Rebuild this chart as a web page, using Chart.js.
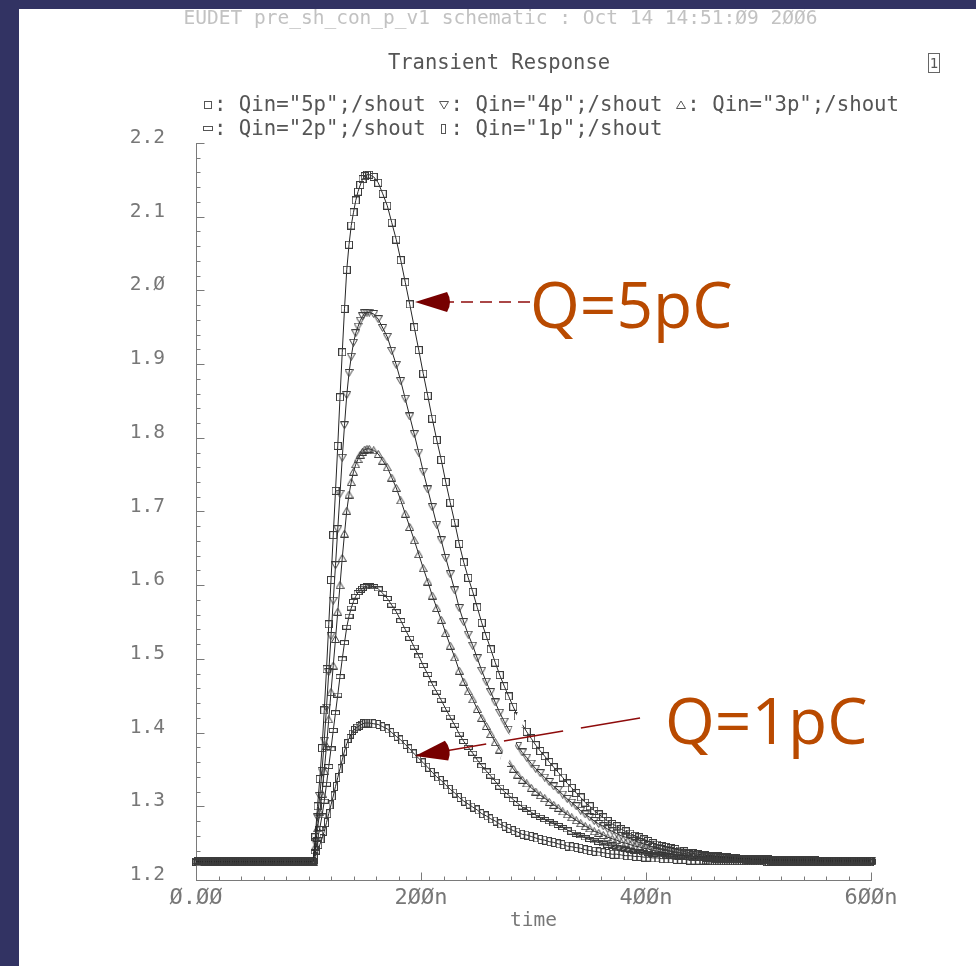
<!DOCTYPE html>
<html>
<head>
<meta charset="utf-8">
<script src="https://cdn.jsdelivr.net/npm/chart.js@4/dist/chart.umd.min.js"></script>
<style>
  html,body{margin:0;padding:0;}
  body{background:#323363;width:976px;height:966px;overflow:hidden;position:relative;}
  #paper{position:absolute;left:19px;top:9px;width:957px;height:957px;background:#fff;}
  #c{position:absolute;left:0;top:0;}
  .t{position:absolute;font-family:"DejaVu Sans Mono",monospace;white-space:pre;line-height:1;}
  #hdr{left:0;width:1001px;text-align:center;top:8px;font-size:19.5px;color:#c2c2c2;}
  #ttl{left:0;width:998px;text-align:center;top:51.5px;font-size:20.5px;color:#555;}
  .leg{left:201.5px;font-size:20.7px;color:#555;}
  #leg1{top:90px;}
  #leg2{top:114px;}
  .mk{display:inline-block;width:1ch;height:1em;position:relative;}
  .mk svg{position:absolute;left:50%;bottom:1px;transform:translateX(-50%);}
  #icon{position:absolute;left:928px;top:53px;width:10px;height:18px;border:1px solid #666;font-family:"DejaVu Sans Mono",monospace;font-size:14px;line-height:18px;text-align:center;color:#555;}
</style>
</head>
<body>
<div id="paper"></div>
<canvas id="c" width="976" height="966"></canvas>
<div class="t" id="hdr">EUDET pre_sh_con_p_v1 schematic : Oct 14 14:51:Ø9 2ØØ6</div>
<div class="t" id="ttl">Transient Response</div>
<div class="t leg" id="leg1"><span class="mk"><svg width="10" height="10"><rect x="1.5" y="1.5" width="7" height="7" fill="none" stroke="#555"/></svg></span>: Qin="5p";/shout <span class="mk"><svg width="10" height="10"><path d="M0.5 1.5 L9.5 1.5 L5 9 Z" fill="none" stroke="#555"/></svg></span>: Qin="4p";/shout <span class="mk"><svg width="10" height="10"><path d="M5 1 L9.5 8.5 L0.5 8.5 Z" fill="none" stroke="#555"/></svg></span>: Qin="3p";/shout</div>
<div class="t leg" id="leg2"><span class="mk"><svg width="10" height="10"><rect x="0.5" y="2.5" width="9" height="4" fill="none" stroke="#555"/></svg></span>: Qin="2p";/shout <span class="mk"><svg width="10" height="10"><rect x="2.5" y="0.5" width="4" height="9" fill="none" stroke="#555"/></svg></span>: Qin="1p";/shout</div>
<div id="icon">1</div>
<script>
// ---- data (time in ns, voltages in V) ----
const timeNs = [
  0,2,4,6,8,10,12,14,16,18,20,22,24,26,28,30,32,34,36,38,40,42,44,46,48,50,
  52,54,56,58,60,62,64,66,68,70,72,74,76,78,80,82,84,86,88,90,92,94,96,98,100,102,
  104,106,108,110,112,114,116,118,120,122,124,126,128,130,132,134,136,138,140,142,144,146,148,150,152,154,
  158,162,166,170,174,178,182,186,190,194,
  198,202,206,210,214,218,222,226,230,234,
  238,242,246,250,254,258,262,266,270,274,
  278,282,286,290,294,298,302,306,310,314,
  318,322,326,330,334,338,342,346,350,354,
  358,362,366,370,374,378,382,386,390,394,
  398,402,406,410,414,418,422,426,430,434,
  438,442,446,450,
  452,454,456,458,460,462,464,466,468,470,472,474,476,478,480,482,484,486,488,490,
  492,494,496,498,500,502,504,506,508,510,512,
  514,516,518,520,522,524,526,528,530,532,534,536,538,540,542,544,546,548,550,
  552,554,556,558,560,562,564,566,568,570,572,574,576,578,580,582,584,586,588,590,
  592,594,596,598,600
];

const shout5p = [
  1.225,1.225,1.225,1.225,1.225,1.225,1.225,1.225,1.225,1.225,1.225,1.225,1.225,1.225,1.225,1.225,1.225,1.225,1.225,1.225,1.225,1.225,1.225,1.225,1.225,1.225,
  1.225,1.225,1.225,1.225,1.225,1.225,1.225,1.225,1.225,1.225,1.225,1.225,1.225,1.225,1.225,1.225,1.225,1.225,1.225,1.225,1.225,1.225,1.225,1.225,1.225,1.225,
  1.225,1.258,1.300,1.337,1.379,1.430,1.486,1.547,1.607,1.668,1.728,1.789,1.855,1.916,1.975,2.028,2.062,2.088,2.106,2.122,2.134,2.143,2.151,2.155,2.157,2.157,
  2.154,2.146,2.131,2.115,2.092,2.069,2.041,2.011,1.981,1.950,
  1.919,1.887,1.857,1.826,1.797,1.770,1.740,1.712,1.685,1.656,
  1.631,1.610,1.591,1.570,1.549,1.531,1.513,1.495,1.478,1.463,
  1.449,1.435,1.422,1.411,1.401,1.392,1.383,1.375,1.368,1.360,
  1.353,1.346,1.339,1.331,1.325,1.318,1.312,1.305,1.300,1.294,
  1.289,1.285,1.280,1.276,1.273,1.269,1.266,1.263,1.260,1.258,
  1.255,1.253,1.250,1.248,1.246,1.245,1.243,1.242,1.240,1.239,
  1.237,1.236,1.235,1.234,
  1.234,1.233,1.233,1.233,1.233,1.232,1.232,1.231,1.231,1.231,1.231,1.230,1.230,1.230,1.230,1.229,1.229,1.229,1.229,1.229,
  1.229,1.228,1.228,1.228,1.228,1.228,1.228,1.228,1.228,1.227,1.227,
  1.227,1.227,1.227,1.227,1.227,1.227,1.227,1.227,1.227,1.227,1.227,1.227,1.227,1.227,1.227,1.227,1.227,1.227,1.227,
  1.226,1.226,1.226,1.226,1.226,1.226,1.226,1.226,1.226,1.226,1.226,1.226,1.226,1.226,1.226,1.226,1.226,1.226,1.226,1.226,
  1.226,1.226,1.226,1.226,1.226
];

const shout4p = [
  1.225,1.225,1.225,1.225,1.225,1.225,1.225,1.225,1.225,1.225,1.225,1.225,1.225,1.225,1.225,1.225,1.225,1.225,1.225,1.225,1.225,1.225,1.225,1.225,1.225,1.225,
  1.225,1.225,1.225,1.225,1.225,1.225,1.225,1.225,1.225,1.225,1.225,1.225,1.225,1.225,1.225,1.225,1.225,1.225,1.225,1.225,1.225,1.225,1.225,1.225,1.225,1.225,
  1.225,1.251,1.285,1.314,1.348,1.389,1.434,1.482,1.531,1.579,1.627,1.676,1.724,1.773,1.817,1.858,1.888,1.910,1.929,1.942,1.951,1.959,1.965,1.969,1.970,1.970,
  1.968,1.961,1.949,1.937,1.918,1.899,1.877,1.853,1.829,1.805,
  1.780,1.754,1.730,1.706,1.682,1.661,1.637,1.615,1.593,1.569,
  1.550,1.533,1.518,1.501,1.484,1.469,1.455,1.441,1.427,1.415,
  1.404,1.393,1.382,1.373,1.366,1.358,1.351,1.345,1.339,1.333,
  1.327,1.322,1.316,1.310,1.305,1.300,1.294,1.289,1.285,1.280,
  1.276,1.273,1.269,1.266,1.263,1.260,1.258,1.256,1.253,1.251,
  1.249,1.247,1.245,1.244,1.242,1.241,1.239,1.238,1.237,1.236,
  1.235,1.234,1.233,1.232,
  1.232,1.232,1.232,1.231,1.231,1.231,1.231,1.230,1.230,1.230,1.230,1.229,1.229,1.229,1.229,1.229,1.229,1.228,1.228,1.228,
  1.228,1.228,1.228,1.228,1.228,1.227,1.227,1.227,1.227,1.227,1.227,
  1.227,1.227,1.227,1.227,1.227,1.227,1.227,1.227,1.227,1.226,1.226,1.226,1.226,1.226,1.226,1.226,1.226,1.226,1.226,
  1.226,1.226,1.226,1.226,1.226,1.226,1.226,1.226,1.226,1.226,1.226,1.226,1.226,1.226,1.226,1.226,1.226,1.226,1.226,1.226,
  1.226,1.226,1.226,1.226,1.226
];

const shout3p = [
  1.225,1.225,1.225,1.225,1.225,1.225,1.225,1.225,1.225,1.225,1.225,1.225,1.225,1.225,1.225,1.225,1.225,1.225,1.225,1.225,1.225,1.225,1.225,1.225,1.225,1.225,
  1.225,1.225,1.225,1.225,1.225,1.225,1.225,1.225,1.225,1.225,1.225,1.225,1.225,1.225,1.225,1.225,1.225,1.225,1.225,1.225,1.225,1.225,1.225,1.225,1.225,1.225,
  1.225,1.245,1.270,1.292,1.317,1.348,1.382,1.418,1.455,1.491,1.527,1.564,1.600,1.637,1.670,1.701,1.723,1.740,1.754,1.764,1.771,1.777,1.781,1.784,1.785,1.785,
  1.783,1.778,1.769,1.760,1.746,1.732,1.715,1.697,1.679,1.661,
  1.642,1.623,1.605,1.586,1.569,1.553,1.535,1.518,1.502,1.484,
  1.469,1.456,1.445,1.432,1.420,1.409,1.398,1.387,1.377,1.368,
  1.359,1.351,1.343,1.336,1.331,1.325,1.320,1.315,1.311,1.306,
  1.302,1.298,1.293,1.289,1.285,1.281,1.277,1.273,1.270,1.266,
  1.264,1.261,1.258,1.256,1.254,1.251,1.250,1.248,1.246,1.245,
  1.243,1.242,1.240,1.239,1.238,1.237,1.236,1.235,1.234,1.233,
  1.232,1.232,1.231,1.231,
  1.231,1.230,1.230,1.230,1.230,1.229,1.229,1.229,1.229,1.229,1.229,1.228,1.228,1.228,1.228,1.228,1.228,1.228,1.228,1.227,
  1.227,1.227,1.227,1.227,1.227,1.227,1.227,1.227,1.227,1.227,1.226,
  1.226,1.226,1.226,1.226,1.226,1.226,1.226,1.226,1.226,1.226,1.226,1.226,1.226,1.226,1.226,1.226,1.226,1.226,1.226,
  1.226,1.226,1.226,1.226,1.226,1.226,1.226,1.226,1.226,1.226,1.226,1.226,1.226,1.226,1.226,1.226,1.226,1.226,1.226,1.226,
  1.226,1.226,1.226,1.226,1.226
];

const shout2p = [
  1.225,1.225,1.225,1.225,1.225,1.225,1.225,1.225,1.225,1.225,1.225,1.225,1.225,1.225,1.225,1.225,1.225,1.225,1.225,1.225,1.225,1.225,1.225,1.225,1.225,1.225,
  1.225,1.225,1.225,1.225,1.225,1.225,1.225,1.225,1.225,1.225,1.225,1.225,1.225,1.225,1.225,1.225,1.225,1.225,1.225,1.225,1.225,1.225,1.225,1.225,1.225,1.225,
  1.225,1.238,1.255,1.270,1.287,1.307,1.330,1.354,1.378,1.403,1.427,1.451,1.476,1.500,1.522,1.543,1.558,1.569,1.578,1.585,1.590,1.593,1.596,1.598,1.599,1.599,
  1.598,1.595,1.589,1.582,1.573,1.564,1.552,1.540,1.528,1.516,
  1.504,1.491,1.479,1.466,1.455,1.444,1.432,1.421,1.410,1.398,
  1.388,1.380,1.372,1.363,1.355,1.348,1.341,1.334,1.326,1.320,
  1.315,1.309,1.304,1.299,1.296,1.292,1.288,1.285,1.282,1.279,
  1.276,1.274,1.271,1.268,1.265,1.262,1.260,1.257,1.255,1.253,
  1.251,1.249,1.247,1.246,1.244,1.243,1.241,1.240,1.239,1.238,
  1.237,1.236,1.235,1.234,1.234,1.233,1.232,1.232,1.231,1.231,
  1.230,1.229,1.229,1.229,
  1.229,1.228,1.228,1.228,1.228,1.228,1.228,1.228,1.228,1.227,1.227,1.227,1.227,1.227,1.227,1.227,1.227,1.227,1.227,1.227,
  1.227,1.226,1.226,1.226,1.226,1.226,1.226,1.226,1.226,1.226,1.226,
  1.226,1.226,1.226,1.226,1.226,1.226,1.226,1.226,1.226,1.226,1.226,1.226,1.226,1.226,1.226,1.226,1.226,1.226,1.226,
  1.226,1.226,1.226,1.226,1.226,1.226,1.226,1.226,1.226,1.226,1.225,1.225,1.225,1.225,1.225,1.225,1.225,1.225,1.225,1.225,
  1.225,1.225,1.225,1.225,1.225
];

const shout1p = [
  1.225,1.225,1.225,1.225,1.225,1.225,1.225,1.225,1.225,1.225,1.225,1.225,1.225,1.225,1.225,1.225,1.225,1.225,1.225,1.225,1.225,1.225,1.225,1.225,1.225,1.225,
  1.225,1.225,1.225,1.225,1.225,1.225,1.225,1.225,1.225,1.225,1.225,1.225,1.225,1.225,1.225,1.225,1.225,1.225,1.225,1.225,1.225,1.225,1.225,1.225,1.225,1.225,
  1.225,1.232,1.240,1.248,1.256,1.266,1.278,1.290,1.302,1.314,1.327,1.339,1.351,1.363,1.375,1.385,1.392,1.398,1.403,1.406,1.408,1.410,1.412,1.413,1.413,1.413,
  1.412,1.411,1.408,1.405,1.400,1.395,1.390,1.384,1.378,1.371,
  1.365,1.359,1.353,1.346,1.340,1.335,1.329,1.323,1.318,1.312,
  1.307,1.303,1.299,1.295,1.290,1.287,1.283,1.280,1.276,1.273,
  1.270,1.267,1.265,1.262,1.261,1.259,1.257,1.255,1.254,1.252,
  1.251,1.249,1.248,1.246,1.245,1.244,1.243,1.241,1.240,1.239,
  1.238,1.237,1.236,1.235,1.235,1.234,1.233,1.233,1.232,1.232,
  1.231,1.231,1.230,1.230,1.229,1.229,1.229,1.228,1.228,1.228,
  1.227,1.227,1.227,1.227,
  1.227,1.227,1.226,1.226,1.226,1.226,1.226,1.226,1.226,1.226,1.226,1.226,1.226,1.226,1.226,1.226,1.226,1.226,1.226,1.226,
  1.226,1.226,1.226,1.226,1.226,1.226,1.226,1.225,1.225,1.225,1.225,
  1.225,1.225,1.225,1.225,1.225,1.225,1.225,1.225,1.225,1.225,1.225,1.225,1.225,1.225,1.225,1.225,1.225,1.225,1.225,
  1.225,1.225,1.225,1.225,1.225,1.225,1.225,1.225,1.225,1.225,1.225,1.225,1.225,1.225,1.225,1.225,1.225,1.225,1.225,1.225,
  1.225,1.225,1.225,1.225,1.225
];

const seriesNames = ['Qin="5p";/shout','Qin="4p";/shout','Qin="3p";/shout','Qin="2p";/shout','Qin="1p";/shout'];
const xTickLabels = ['Ø.ØØ','2ØØn','4ØØn','6ØØn'];
const yTickLabels = ['1.2','1.3','1.4','1.5','1.6','1.7','1.8','1.9','2.Ø','2.1','2.2'];

// ---- marker glyphs ----
function mk(w,h,draw){
  const c=document.createElement('canvas'); c.width=w; c.height=h;
  const g=c.getContext('2d'); g.strokeStyle='#3c3c3c'; g.lineWidth=1; draw(g); return c;
}
const mSquare = mk(8,8,g=>g.strokeRect(0.5,0.5,7,7));
const mDown = mk(9,8,g=>{g.beginPath();g.moveTo(0.5,0.5);g.lineTo(8.5,0.5);g.lineTo(4.5,7.5);g.closePath();g.stroke();});
const mUp = mk(9,8,g=>{g.beginPath();g.moveTo(4.5,0.5);g.lineTo(8.5,7.5);g.lineTo(0.5,7.5);g.closePath();g.stroke();});
const mHRect = mk(9,5,g=>g.strokeRect(0.5,0.5,8,4));
const mVRect = mk(5,9,g=>g.strokeRect(0.5,0.5,4,8));
const markers = [mSquare,mDown,mUp,mHRect,mVRect];
const seriesValues = [shout5p,shout4p,shout3p,shout2p,shout1p];

seriesValues.forEach((s,i)=>{ if(s.length!==timeNs.length) console.error('length mismatch', seriesNames[i], s.length, timeNs.length); });

const datasets = seriesValues.map((vals,i)=>({
  label: seriesNames[i],
  data: timeNs.map((t,k)=>({x:t,y:vals[k]})),
  borderColor:'#262626',
  borderWidth:1,
  pointStyle: markers[i],
  pointRadius:4,
  pointHoverRadius:4,
  fill:false,
  tension:0,
  clip:false
}));

const FONT='"DejaVu Sans Mono", monospace';

// ---- decorations: inner ticks + annotations ----
function arrow(ctx, from, tip, dash){
  const dx=tip[0]-from[0], dy=tip[1]-from[1], L=Math.hypot(dx,dy);
  const ux=dx/L, uy=dy/L, px=-uy, py=ux;
  const headLen=32, halfW=10;
  const bx=tip[0]-ux*headLen, by=tip[1]-uy*headLen;
  ctx.save();
  ctx.strokeStyle='#8e0b0b'; ctx.lineWidth=1.5; ctx.setLineDash(dash);
  ctx.beginPath(); ctx.moveTo(from[0],from[1]); ctx.lineTo(bx,by); ctx.stroke();
  ctx.setLineDash([]);
  ctx.fillStyle='#770000';
  ctx.beginPath();
  ctx.moveTo(tip[0],tip[1]);
  ctx.lineTo(bx+px*halfW, by+py*halfW);
  ctx.quadraticCurveTo(bx-ux*6, by-uy*6, bx-px*halfW, by-py*halfW);
  ctx.closePath(); ctx.fill();
  ctx.restore();
}

const deco = {
  id:'deco',
  afterDatasetsDraw(chart){
    const {ctx, scales:{x,y}} = chart;
    const P=(t,v)=>[x.getPixelForValue(t), y.getPixelForValue(v)];
    ctx.save();
    ctx.strokeStyle='#fff'; ctx.lineWidth=9;
    const a=P(291.6,1.4334), b=P(271.1,1.3493);
    ctx.beginPath(); ctx.moveTo(a[0],a[1]); ctx.lineTo(b[0],b[1]); ctx.stroke();
    arrow(ctx, P(394.7,1.4198), P(194.7,1.3683), [60,18]);
    arrow(ctx, P(296.9,1.9843), P(194.7,1.9843), [12,7]);
    ctx.fillStyle='#b94a00';
    ctx.font='64px "Open Sans", "Noto Sans", sans-serif';
    ctx.textBaseline='alphabetic'; ctx.textAlign='left';
    const p5=P(296.9,1.949), p1=P(416.9,1.3845);
    ctx.fillText('Q=5pC', p5[0], p5[1]);
    ctx.fillText('Q=1pC', p1[0], p1[1]);
    ctx.restore();
  },
  afterDraw(chart){
    const {ctx, chartArea, scales:{x,y}} = chart;
    ctx.save();
    ctx.strokeStyle='#7a7a7a'; ctx.lineWidth=1;
    ctx.beginPath();
    const lx=Math.round(chartArea.left)+0.5;
    for(let k=0;k<=50;k++){
      const py=Math.round(y.getPixelForValue(y.min + k*(y.max-y.min)/50))+0.5;
      const len=(k%5===0)?8:4;
      ctx.moveTo(lx,py); ctx.lineTo(lx+len,py);
    }
    const by=Math.round(chartArea.bottom)+0.5;
    for(let k=0;k<=30;k++){
      const px=Math.round(x.getPixelForValue(x.min + k*(x.max-x.min)/30))+0.5;
      const len=(k%10===0)?8:4;
      ctx.moveTo(px,by); ctx.lineTo(px,by-len);
    }
    ctx.stroke();
    ctx.restore();
  }
};

new Chart(document.getElementById('c'), {
  type:'line',
  data:{datasets},
  options:{
    responsive:false,
    animation:false,
    devicePixelRatio:1,
    layout:{padding:{top:143,right:105,bottom:0,left:0}},
    plugins:{legend:{display:false},title:{display:false},tooltip:{enabled:false}},
    scales:{
      x:{
        type:'linear', min:0, max:600,
        border:{display:true,color:'#7a7a7a',width:1},
        grid:{display:false,drawTicks:false},
        ticks:{stepSize:200,padding:5,color:'#777',maxRotation:0,autoSkip:false,
          font:{family:FONT,size:22},
          callback:(v,i)=>xTickLabels[i]},
        title:{display:true,text:'time',color:'#777',font:{family:FONT,size:19.5},padding:{top:0,bottom:33}},
        afterFit:s=>{s.height=86;}
      },
      y:{
        type:'linear', min:1.2, max:2.2,
        border:{display:true,color:'#7a7a7a',width:1},
        grid:{display:false,drawTicks:false},
        ticks:{stepSize:0.1,padding:31,labelOffset:-5,color:'#777',autoSkip:false,
          font:{family:FONT,size:19.5},
          callback:(v,i)=>yTickLabels[i]},
        afterFit:s=>{s.width=196;}
      }
    }
  },
  plugins:[deco]
});
</script>
</body>
</html>
